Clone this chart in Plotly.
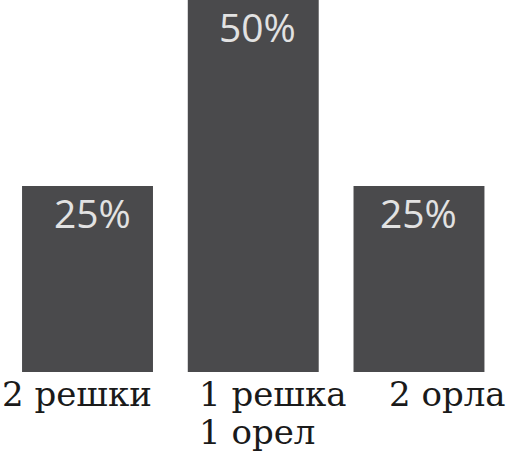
import plotly.graph_objects as go

# Data
categories = ['2 решки', '1 решка<br>1 орел', '2 орла']
shares = [25, 50, 25]
bar_labels = ['25%', '50%', '25%']

# Colors
bar_color = '#4a4a4c'
inner_text_color = '#e2e2e2'
label_color = '#1a1a1a'

# pixel nudges (the source picture doesn't centre its texts)
label_shift = [-88, -56, -32]
pct_shift = [5, 4, 0]
line_step = 38  # tighter than plotly's own 1.3em line height

fig = go.Figure()
fig.add_trace(
    go.Bar(
        x=categories,
        y=shares,
        marker_color=bar_color,
        marker_line_width=0,
        hoverinfo='none',
    )
)

# percentage labels just below the bar tops
for cat, val, lab, dx in zip(categories, shares, bar_labels, pct_shift):
    fig.add_annotation(
        x=cat, y=val, xref='x', yref='y',
        text=lab, showarrow=False,
        xanchor='center', yanchor='top',
        xshift=dx, yshift=2,
        font=dict(family='Open Sans', size=39, color=inner_text_color),
    )

# category captions under the bars, one annotation per line
for cat, shift in zip(categories, label_shift):
    for i, line in enumerate(cat.split('<br>')):
        fig.add_annotation(
            x=cat, y=0, xref='x', yref='y',
            text=line,
            showarrow=False,
            xanchor='left', yanchor='top',
            xshift=shift, yshift=0 - i * line_step,
            font=dict(family='DejaVu Serif', size=34, color=label_color),
        )

# zero side margins so the annotations never push the plot area in;
# the x range instead sets where the three bars land
fig.update_layout(
    width=506,
    height=456,
    margin=dict(l=0, r=0, t=0, b=84),
    paper_bgcolor='white',
    plot_bgcolor='white',
    bargap=0.21,
    showlegend=False,
    xaxis=dict(range=[-0.528, 2.525], showticklabels=False, showgrid=False,
               zeroline=False, showline=False),
    yaxis=dict(range=[0, 50], visible=False),
)

# drop the default page margin so the figure sits at the window corner
fig.write_html(
    "out.html",
    config={'responsive': False, 'displayModeBar': False},
    post_script="document.body.style.margin='0';document.body.style.overflow='hidden';",
)
